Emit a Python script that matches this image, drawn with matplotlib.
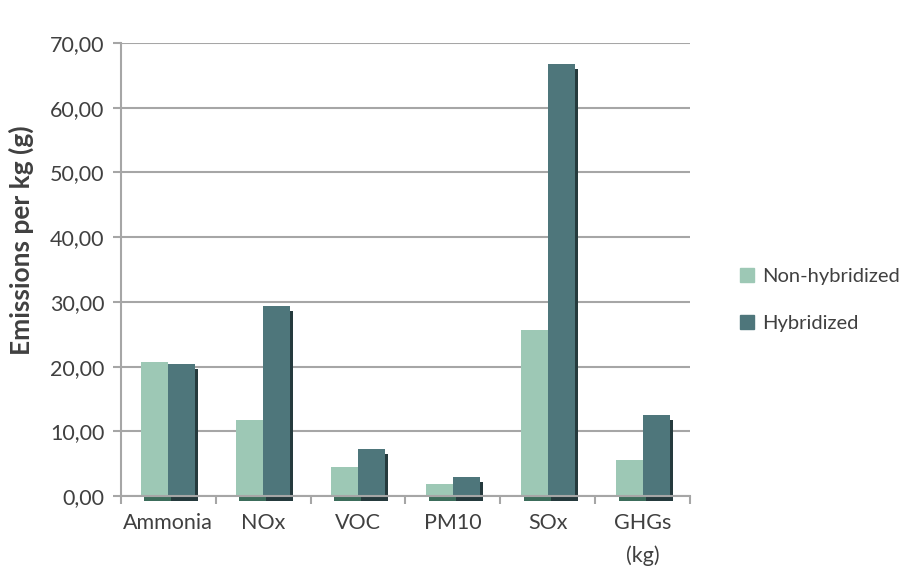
import numpy as np
import matplotlib.pyplot as plt
from matplotlib.patches import Patch
from matplotlib.ticker import FuncFormatter, FixedLocator

categories = ['Ammonia', 'NOx', 'VOC', 'PM10', 'SOx', 'GHGs\n(kg)']
non_hybridized = [20.7, 11.7, 4.5, 1.9, 25.7, 5.6]
hybridized = [20.4, 29.4, 7.3, 2.9, 66.8, 12.5]

plt.rcParams['font.family'] = ['Lato', 'DejaVu Sans']
text_color = '#404040'
grid_color = '#a6a6a6'
c_nh = '#9dc8b5'
c_h = '#4e767b'
c_nh_shadow = '#3c6d5b'
c_h_shadow = '#253a3d'

fig = plt.figure(figsize=(9.02, 5.67), dpi=100)
ax = fig.add_axes([0.134, 0.1252, 0.631, 0.7988])

x = np.arange(len(categories))
w = 0.285
dx = 0.032   # shadow shift to the right
dy = 0.75    # shadow shift downwards

# shadows (3D look)
ax.bar(x - w / 2 + dx, np.array(non_hybridized), w, bottom=-dy, color=c_nh_shadow,
       zorder=2, clip_on=False)
ax.bar(x + w / 2 + dx, np.array(hybridized), w, bottom=-dy, color=c_h_shadow,
       zorder=2, clip_on=False)
# bars
ax.bar(x - w / 2, non_hybridized, w, color=c_nh, zorder=3)
ax.bar(x + w / 2, hybridized, w, color=c_h, zorder=3)

ax.set_xlim(-0.5, len(categories) - 0.5)
ax.set_ylim(0, 70)
ax.set_yticks(np.arange(0, 71, 10))
ax.yaxis.set_major_formatter(FuncFormatter(lambda v, p: f'{v:.2f}'.replace('.', ',')))
ax.yaxis.grid(True, color=grid_color, linewidth=1.5, zorder=0)
ax.set_axisbelow(True)

ax.set_xticks(x)
ax.set_xticklabels(categories, linespacing=1.75)
ax.xaxis.set_minor_locator(FixedLocator(np.arange(-0.5, len(categories), 1)))
ax.tick_params(axis='x', which='major', length=0, pad=12, labelsize=15.5, labelcolor=text_color)
ax.tick_params(axis='x', which='minor', length=6, width=1.5, color=grid_color)
ax.tick_params(axis='y', length=6, width=1.5, color=grid_color, labelsize=15.5,
               labelcolor=text_color, pad=6)

for s in ['top', 'right']:
    ax.spines[s].set_visible(False)
for s in ['left', 'bottom']:
    ax.spines[s].set_color(grid_color)
    ax.spines[s].set_linewidth(1.5)
    ax.spines[s].set_zorder(4)

ax.set_ylabel('Emissions per kg (g)', fontsize=19, fontweight='bold', color=text_color)
ax.yaxis.set_label_coords(-0.153, 0.565)

handles = [Patch(color=c_nh, label='Non-hybridized'), Patch(color=c_h, label='Hybridized')]
fig.legend(handles=handles, loc='center left', bbox_to_anchor=(0.809, 0.471), frameon=False,
           fontsize=14.5, labelcolor=text_color, handlelength=0.7, handleheight=0.7,
           handletextpad=0.4, labelspacing=1.45, borderpad=0)

fig.savefig('out.png', dpi=100)
